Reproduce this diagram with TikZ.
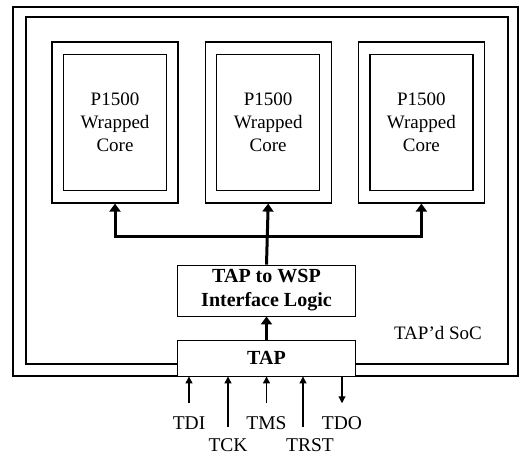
\documentclass[tikz,border=0pt]{standalone}
\usepackage{fontspec}
\setmainfont{Liberation Serif}
\usetikzlibrary{positioning, arrows.meta}

\begin{document}
\begin{tikzpicture}[
		x=1pt, y=-1pt,
		node distance=25pt,
		wrapper/.style={
			draw,
			line width=1.2pt,
			minimum width=126pt,
			minimum height=161pt
		},
		core/.style={
			draw,
			line width=1.2pt,
			align=center,
			minimum width=103pt,
			minimum height=136pt,
			font=\fontsize{19}{23}\selectfont
		},
		logic/.style={
			draw,
			line width=0.9pt,
			fill=white,
			align=center,
			minimum width=178pt,
			font=\fontsize{20}{24}\selectfont\bfseries
		},
		frame/.style={line width=1.2pt},
		bus/.style={line width=3pt, -{Triangle[length=8pt, width=11pt]}},
		sig/.style={line width=1.2pt, -{Triangle[length=7pt, width=7pt]}},
		pinlabel/.style={inner sep=0pt, font=\fontsize{19.5}{23}\selectfont}
		]
		
		\useasboundingbox (0,0) rectangle (522,457);
		
		% SoC boundary
		\draw[frame] (13,7) rectangle (518,376);
		\draw[frame] (26,17) rectangle (508,364);
		\node[font=\fontsize{19}{23}\selectfont] (soc) at (438,333) {TAP'd~SoC};
		
		% wrapped cores
		\node[wrapper] (w1) at (115,122.5) {};
		\node[wrapper, right=26pt of w1] (w2) {};
		\node[wrapper, right=26pt of w2] (w3) {};
		\node[core] (c1) at (w1) {P1500\\Wrapped\\Core};
		\node[core] (c2) at (w2) {P1500\\Wrapped\\Core};
		\node[core] (c3) at (w3) {P1500\\Wrapped\\Core};
		
		\node[logic, minimum height=51pt] (wsp) at (266.5,290.5) {TAP to WSP\\Interface Logic};
		\node[logic, minimum height=36pt] (tap) at (266.5,358) {TAP};
		
		\coordinate (bus) at (266.5,237);
		
		\draw[bus] (wsp.north) -- (w2.south);
		\draw[bus] (bus) -| (w1.south);
		\draw[bus] (bus) -| (w3.south);
		\draw[bus] (tap.north) -- (wsp.south);
		
		% JTAG pins
		\node[pinlabel] (tdi) at (189,423) {TDI};
		\node[pinlabel] (tck) at (228,445) {TCK};
		\node[pinlabel] (tms) at (266.5,423) {TMS};
		\node[pinlabel] (trst) at (310,445) {TRST};
		\node[pinlabel] (tdo) at (342,423) {TDO};
		
		\draw[sig, shorten <=13pt] (tdi.north) -- (tdi.north |- tap.south);
		\draw[sig, shorten <=11pt] (tck.north) -- (tck.north |- tap.south);
		\draw[sig, shorten <=13pt] (tms.north) -- (tms.north |- tap.south);
		\draw[sig, shorten <=11pt] ([xshift=-7pt]trst.north) -- ([xshift=-7pt]trst.north |- tap.south);
		\draw[sig, shorten >=13pt] (tdo.north |- tap.south) -- (tdo.north);
		
	\end{tikzpicture}
\end{document}
